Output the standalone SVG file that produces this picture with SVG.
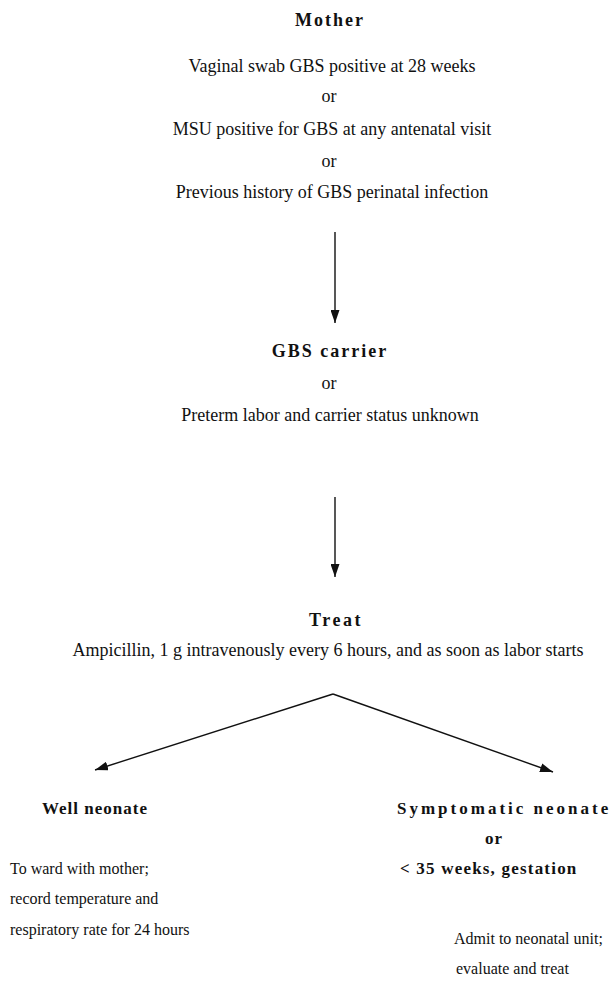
<svg xmlns="http://www.w3.org/2000/svg" width="613" height="994" viewBox="0 0 613 994">
<style>
text{font-family:"Liberation Serif","Times New Roman",serif;fill:#111;}
.t{font-size:18px;}
.s{font-size:16px;}
.h{font-size:18px;font-weight:bold;letter-spacing:2px;}
.b{font-size:17px;font-weight:bold;}
.c{text-anchor:middle;}
.ln{stroke:#111;stroke-width:1.4;fill:none;}
</style>
<defs>
<marker id="ah" viewBox="0 0 13 9" refX="13" refY="4.5" markerWidth="13" markerHeight="9" markerUnits="userSpaceOnUse" orient="auto">
<path d="M0,0 L13,4.5 L0,9 Z" fill="#111"/>
</marker>
</defs>
<g id="mother">
<text class="h c" x="330" y="26">Mother</text>
<text class="t c" x="332" y="72">Vaginal swab GBS positive at 28 weeks</text>
<text class="t c" x="329" y="102">or</text>
<text class="t c" x="332" y="135">MSU positive for GBS at any antenatal visit</text>
<text class="t c" x="329" y="167">or</text>
<text class="t c" x="332" y="198">Previous history of GBS perinatal infection</text>
</g>
<g id="carrier">
<text class="h c" x="330" y="357">GBS  carrier</text>
<text class="t c" x="329" y="389">or</text>
<text class="t c" x="330" y="421">Preterm labor and carrier status unknown</text>
</g>
<g id="treat">
<text class="h c" x="336" y="626" style="letter-spacing:2.5px">Treat</text>
<text class="t c" x="328" y="656">Ampicillin, 1 g intravenously every 6 hours, and as soon as labor starts</text>
</g>
<g id="well">
<text class="b" x="42" y="814" style="letter-spacing:1px">Well  neonate</text>
<text class="s" x="10" y="874">To ward with mother;</text>
<text class="s" x="10" y="904">record temperature and</text>
<text class="s" x="10" y="935">respiratory rate for 24 hours</text>
</g>
<g id="symptomatic">
<text class="b" x="397" y="814" style="letter-spacing:3px">Symptomatic  neonate</text>
<text class="b c" x="494" y="844" style="letter-spacing:1px">or</text>
<text class="b" x="400" y="874" style="letter-spacing:1.2px">&lt;  35  weeks,  gestation</text>
<text class="s" x="454" y="944">Admit to neonatal unit;</text>
<text class="s" x="456" y="974">evaluate and treat</text>
</g>
<g id="connectors">
<line class="ln" x1="335" y1="232" x2="335" y2="323" marker-end="url(#ah)"/>
<line class="ln" x1="335" y1="497" x2="335" y2="577" marker-end="url(#ah)"/>
<line class="ln" x1="333" y1="694" x2="95" y2="770" marker-end="url(#ah)"/>
<line class="ln" x1="333" y1="694" x2="553" y2="772" marker-end="url(#ah)"/>
</g>
</svg>
